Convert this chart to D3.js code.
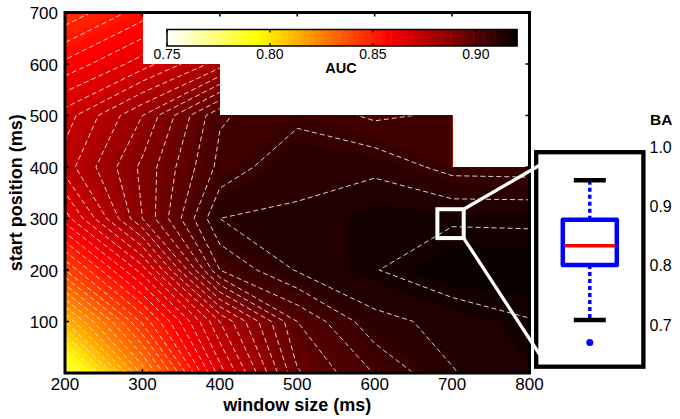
<!DOCTYPE html>
<html>
<head>
<meta charset="utf-8">
<script src="https://cdn.jsdelivr.net/npm/d3@7"></script>
<style>
body { margin: 0; background: #fff; }
svg { display: block; }
text { font-family: "Liberation Sans", Arial, sans-serif; fill: #000; }
</style>
</head>
<body>
<div id="chart"></div>
<script>
// grid of the analysis
var windowSizes = [200, 300, 400, 500, 600, 700, 800];
var startPositions = [0, 100, 200, 300, 400, 500, 600, 700];

// AUC, one row per start position (from 0 up), null = not computed
var aucRows = [
	[0.782, 0.825, 0.866, 0.8955, 0.9042, 0.9118, 0.9144],
	[0.812, 0.845, 0.876, 0.900, 0.9108, 0.9132, 0.9158],
	[0.840, 0.866, 0.904, 0.9124, 0.9158, 0.9192, 0.9188],
	[0.862, 0.888, 0.912, 0.9122, 0.9160, 0.9154, 0.9153],
	[0.874, 0.889, 0.9052, 0.9116, 0.9109, 0.9065, 0.9062],
	[0.870, 0.884, 0.9035, 0.9068, 0.9032, 0.9048, null],
	[0.857, 0.866, 0.878, null, null, null, null],
	[0.845, 0.854, null, null, null, null, null]
];

var xTicks = [200, 300, 400, 500, 600, 700, 800];
var yTicks = [100, 200, 300, 400, 500, 600, 700];
var colorTicks = [0.75, 0.80, 0.85, 0.90];
var colorDomain = [0.75, 0.92];
var lineStep = 0.004, firstLine = 0.756, nLines = 41;

// balanced accuracy at the marked setting
var baTicks = [0.7, 0.8, 0.9, 1.0];
var baWhiskers = [0.708, 0.944];
var baQuartiles = [0.801, 0.8336, 0.8775];
var baOutliers = [0.670];
var markWindow = [681, 715];
var markStart = [262, 318];

var W = 680, H = 419;
var svg = d3.select("#chart").append("svg")
	.attr("width", W)
	.attr("height", H);

var x = d3.scaleLinear().domain([200, 800]).range([65, 529.5]);
var y = d3.scaleLinear().domain([0, 700]).range([373, 12.5]);

// colormap: flipped MATLAB hot(64)
var nColors = 64;
function hot(i) {
	var r = Math.min((i + 1) / 24, 1);
	var g = Math.max(0, Math.min((i + 1 - 24) / 24, 1));
	var b = Math.max(0, Math.min((i + 1 - 48) / 16, 1));
	return d3.rgb(r * 255, g * 255, b * 255).toString();
}
function bandColor(k) { return hot(nColors - 1 - k); }
var bandEdges = d3.range(nColors).map(function(k) {
	return colorDomain[0] + k * (colorDomain[1] - colorDomain[0]) / nColors;
});

// valid area (staircase of computed cells)
var topValid = windowSizes.map(function(w, i) {
	var t = 0;
	aucRows.forEach(function(row, j) { if (row[i] != null) t = startPositions[j]; });
	return t;
});
var clipPts = [[x(windowSizes[0]), y(0)]];
for (var i = 0; i < windowSizes.length - 1; i++) {
	var t = Math.min(topValid[i], topValid[i + 1]);
	clipPts.push([x(windowSizes[i]), y(t)]);
	clipPts.push([x(windowSizes[i + 1]), y(t)]);
}
clipPts.push([x(windowSizes[windowSizes.length - 1]), y(0)]);

svg.append("clipPath").attr("id", "valid")
	.append("path")
	.attr("d", "M" + clipPts.join("L") + "Z");

// values for the contour routine; empty cells copy the cell below (clipped away)
var nx = windowSizes.length, ny = startPositions.length;
var values = [];
for (var j = 0; j < ny; j++) {
	for (var i2 = 0; i2 < nx; i2++) {
		var v = aucRows[j][i2];
		if (v == null) v = values[(j - 1) * nx + i2];
		values.push(v);
	}
}

var dw = windowSizes[1] - windowSizes[0];
var ds = startPositions[1] - startPositions[0];
var proj = d3.geoTransform({
	point: function(cx, cy) {
		this.stream.point(
			x(windowSizes[0] + (cx - 0.5) * dw),
			y(startPositions[0] + (cy - 0.5) * ds));
	}
});
var path = d3.geoPath(proj);

var plot = svg.append("g").attr("clip-path", "url(#valid)");

var fills = d3.contours().size([nx, ny]).thresholds(bandEdges)(values);
plot.selectAll(".band")
	.data(fills)
	.enter()
	.append("path")
	.attr("class", "band")
	.attr("d", path)
	.attr("fill", function(d, k) { return bandColor(k); })
	.attr("stroke", function(d, k) { return bandColor(k); })
	.attr("stroke-width", 0.5);

var lineLevels = d3.range(nLines).map(function(k) { return firstLine + k * lineStep; });
var lines = d3.contours().size([nx, ny]).thresholds(lineLevels)(values);
plot.selectAll(".iso")
	.data(lines)
	.enter()
	.append("path")
	.attr("class", "iso")
	.attr("d", path)
	.attr("fill", "none")
	.attr("stroke", "#f4e4e4")
	.attr("stroke-width", 0.9)
	.attr("stroke-dasharray", "5,3");

// frame and ticks
var axes = svg.append("g");
axes.append("rect")
	.attr("x", x(200)).attr("y", y(700))
	.attr("width", x(800) - x(200)).attr("height", y(0) - y(700))
	.attr("fill", "none").attr("stroke", "#000").attr("stroke-width", 3);

xTicks.forEach(function(d) {
	axes.append("line").attr("x1", x(d)).attr("x2", x(d)).attr("y1", y(0)).attr("y2", y(0) - 4)
		.attr("stroke", "#000").attr("stroke-width", 1.5);
	axes.append("line").attr("x1", x(d)).attr("x2", x(d)).attr("y1", y(700)).attr("y2", y(700) + 4)
		.attr("stroke", "#000").attr("stroke-width", 1.5);
	axes.append("text").attr("x", x(d)).attr("y", 389.5)
		.attr("text-anchor", "middle").attr("font-size", 17).text(d);
});
yTicks.forEach(function(d) {
	axes.append("line").attr("x1", x(200)).attr("x2", x(200) + 4).attr("y1", y(d)).attr("y2", y(d))
		.attr("stroke", "#000").attr("stroke-width", 1.5);
	axes.append("line").attr("x1", x(800)).attr("x2", x(800) - 4).attr("y1", y(d)).attr("y2", y(d))
		.attr("stroke", "#000").attr("stroke-width", 1.5);
	axes.append("text").attr("x", 58).attr("y", y(d) + 6.5)
		.attr("text-anchor", "end").attr("font-size", 17).text(d);
});

svg.append("text")
	.attr("x", (x(200) + x(800)) / 2).attr("y", 411)
	.attr("text-anchor", "middle").attr("font-size", 18).attr("font-weight", "bold")
	.text("window size (ms)");
svg.append("text")
	.attr("transform", "translate(21.5," + (y(0) + y(700)) / 2 + ") rotate(-90)")
	.attr("text-anchor", "middle").attr("font-size", 18).attr("font-weight", "bold")
	.text("start position (ms)");

// colorbar
var cx = d3.scaleLinear().domain(colorDomain).range([167, 517]);
var cb = svg.append("g");
cb.selectAll(".cb")
	.data(bandEdges)
	.enter()
	.append("rect")
	.attr("x", function(d) { return cx(d); })
	.attr("y", 29.5)
	.attr("width", (cx(colorDomain[1]) - cx(colorDomain[0])) / nColors + 0.5)
	.attr("height", 16.5)
	.attr("fill", function(d, k) { return bandColor(k); });
cb.append("rect")
	.attr("x", cx(colorDomain[0])).attr("y", 29.5)
	.attr("width", cx(colorDomain[1]) - cx(colorDomain[0])).attr("height", 16.5)
	.attr("fill", "none").attr("stroke", "#000").attr("stroke-width", 1.5);
colorTicks.forEach(function(d) {
	cb.append("line").attr("x1", cx(d)).attr("x2", cx(d)).attr("y1", 29.5).attr("y2", 32.5)
		.attr("stroke", "#000").attr("stroke-width", 1.2);
	cb.append("line").attr("x1", cx(d)).attr("x2", cx(d)).attr("y1", 46).attr("y2", 43)
		.attr("stroke", "#000").attr("stroke-width", 1.2);
	cb.append("text").attr("x", cx(d)).attr("y", 59.3)
		.attr("text-anchor", "middle").attr("font-size", 14).text(d3.format(".2f")(d));
});
cb.append("text").attr("x", 341).attr("y", 72.5)
	.attr("text-anchor", "middle").attr("font-size", 14.5).attr("font-weight", "bold")
	.text("AUC");

// marker for the chosen setting
svg.append("rect")
	.attr("x", x(markWindow[0])).attr("y", y(markStart[1]))
	.attr("width", x(markWindow[1]) - x(markWindow[0]))
	.attr("height", y(markStart[0]) - y(markStart[1]))
	.attr("fill", "none").attr("stroke", "#fff").attr("stroke-width", 4);

// inset box plot
var by = d3.scaleLinear().domain([0.7, 1.0]).range([324.8, 147.2]);
var inset = svg.append("g");
inset.append("rect")
	.attr("x", 536.2).attr("y", 152.2).attr("width", 107.2).attr("height", 214.5)
	.attr("fill", "#fff").attr("stroke", "#000").attr("stroke-width", 4.3);

svg.append("line")
	.attr("x1", x(markWindow[1])).attr("y1", y(markStart[1]))
	.attr("x2", 540).attr("y2", 165)
	.attr("stroke", "#fff").attr("stroke-width", 3.3);
svg.append("line")
	.attr("x1", x(markWindow[1])).attr("y1", y(markStart[0]))
	.attr("x2", 540).attr("y2", 355)
	.attr("stroke", "#fff").attr("stroke-width", 3.3);

var bx = 589.8, boxHalf = 27, capHalf = 16;
inset.append("line")
	.attr("x1", bx).attr("x2", bx).attr("y1", by(baQuartiles[2])).attr("y2", by(baWhiskers[1]))
	.attr("stroke", "#0000ff").attr("stroke-width", 3.5).attr("stroke-dasharray", "4,3");
inset.append("line")
	.attr("x1", bx).attr("x2", bx).attr("y1", by(baQuartiles[0])).attr("y2", by(baWhiskers[0]))
	.attr("stroke", "#0000ff").attr("stroke-width", 3.5).attr("stroke-dasharray", "4,3");
baWhiskers.forEach(function(d) {
	inset.append("line")
		.attr("x1", bx - capHalf).attr("x2", bx + capHalf).attr("y1", by(d)).attr("y2", by(d))
		.attr("stroke", "#000").attr("stroke-width", 4.5);
});
inset.append("rect")
	.attr("x", bx - boxHalf).attr("y", by(baQuartiles[2]))
	.attr("width", 2 * boxHalf).attr("height", by(baQuartiles[0]) - by(baQuartiles[2]))
	.attr("fill", "#fff").attr("stroke", "#0000ff").attr("stroke-width", 4.5)
	.attr("stroke-linejoin", "round");
inset.append("line")
	.attr("x1", bx - boxHalf + 2).attr("x2", bx + boxHalf - 2)
	.attr("y1", by(baQuartiles[1])).attr("y2", by(baQuartiles[1]))
	.attr("stroke", "#ff0000").attr("stroke-width", 3.5);
inset.selectAll(".out")
	.data(baOutliers)
	.enter()
	.append("circle")
	.attr("cx", bx).attr("cy", function(d) { return by(d); })
	.attr("r", 3.5).attr("fill", "#0000ff");

baTicks.forEach(function(d) {
	inset.append("text").attr("x", 649.5).attr("y", by(d) + 5.8)
		.attr("font-size", 16).text(d3.format(".1f")(d));
});
inset.append("text").attr("x", 650).attr("y", 125)
	.attr("font-size", 15.5).attr("font-weight", "bold").text("BA");
</script>
</body>
</html>
